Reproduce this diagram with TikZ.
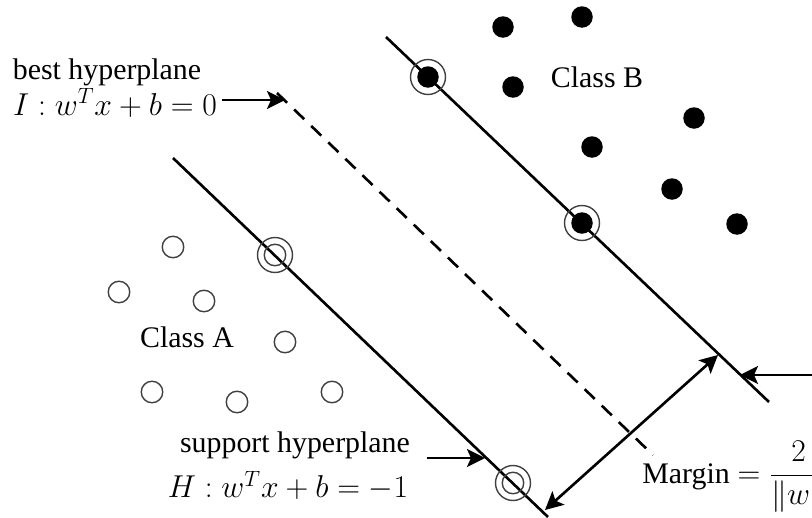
\documentclass[tikz,border=0pt]{standalone}
\usepackage{fix-cm}
\usepackage{amsmath,amssymb}
\usepackage{fontspec}
\setmainfont{Liberation Serif}
\usepackage{tikz}
\usetikzlibrary{arrows.meta,positioning}

\begin{document}
\begin{tikzpicture}[font=\fontsize{17}{20}\selectfont,
 head/.tip={Stealth[length=3.6mm,width=3.6mm,inset=0.8mm]},
 hollow/.style={circle,draw=black!75,line width=0.8pt,minimum size=4.3mm,inner sep=0pt},
 filled/.style={circle,fill=black,minimum size=4.3mm,inner sep=0pt},
 ring/.style={circle,draw=black!75,line width=0.8pt,minimum size=7mm,inner sep=0pt},
 hplane/.style={line width=1.5pt},
 arr/.style={-head,line width=1.5pt},
 eq/.style={font=\fontsize{18}{22}\selectfont,inner sep=0pt}]
\useasboundingbox (0,0) rectangle (16.24,-10.36);
% hyperplanes
\coordinate (bTop) at (7.72,-0.74);
\coordinate (bBot) at (15.38,-8.04);
\coordinate (iTop) at (5.54,-1.86);
\coordinate (iBot) at (13.06,-9.10);
\coordinate (aTop) at (3.46,-3.16);
\coordinate (aBot) at (10.96,-10.34);
\draw[hplane] (bTop) -- (bBot);
\draw[hplane,dash pattern=on 8pt off 5.5pt] (iTop) -- (iBot);
\draw[hplane] (aTop) -- (aBot);
% class B
\node[filled] (b1) at (10.06,-0.54) {};
\node[filled] (b2) at (11.64,-0.34) {};
\node[filled] (b3) at (10.26,-1.74) {};
\node[filled] (b4) at (13.88,-2.36) {};
\node[filled] (b5) at (11.84,-2.94) {};
\node[filled] (b6) at (13.44,-3.78) {};
\node[filled] (b7) at (14.74,-4.48) {};
\node[filled] (sb1) at (8.56,-1.54) {};
\node[filled] (sb2) at (11.64,-4.46) {};
\node[ring] at (sb1) {};
\node[ring] at (sb2) {};
% class A
\node[hollow] (a1) at (3.46,-4.94) {};
\node[hollow] (a2) at (2.38,-5.84) {};
\node[hollow] (a3) at (4.08,-6.02) {};
\node[hollow] (a4) at (5.70,-6.84) {};
\node[hollow] (a5) at (3.04,-7.84) {};
\node[hollow] (a6) at (4.74,-8.04) {};
\node[hollow] (a7) at (6.64,-7.84) {};
\node[hollow] (sa1) at (5.50,-5.10) {};
\node[hollow] (sa2) at (10.26,-9.66) {};
\node[ring] at (sa1) {};
\node[ring] at (sa2) {};
% labels
\node (clB) at (11.94,-1.54) {Class B};
\node (clA) at (3.74,-6.74) {Class A};
\node (best) at (2.14,-1.44) {best hyperplane};
\node[eq] (eqI) at (2.30,-2.06) {$I:w^Tx+b=0$};
\node (supp) at (5.90,-8.90) {support hyperplane};
\node[eq] (eqH) at (5.76,-9.72) {$H:w^Tx+b=-1$};
\node[eq,anchor=west] (marg) at (12.84,-9.54) {{\fontsize{17}{20}\selectfont Margin} $=\dfrac{2}{\|w\|}$};
% arrows
\coordinate (iTip) at (5.70,-2.00);
\coordinate (hIn) at (8.54,-9.16);
\coordinate (hTip) at (9.70,-9.16);
\coordinate (rIn) at (16.30,-7.50);
\coordinate (rTip) at (14.80,-7.50);
\coordinate (mLow) at (10.90,-10.20);
\coordinate (mUp) at (14.36,-7.10);
\draw[arr] ([xshift=1mm]eqI.east |- iTip) -- (iTip);
\draw[arr] (hIn) -- (hTip);
\draw[arr] (rIn) -- (rTip);
\draw[arr,head-head] (mLow) -- (mUp);
\end{tikzpicture}
\end{document}
